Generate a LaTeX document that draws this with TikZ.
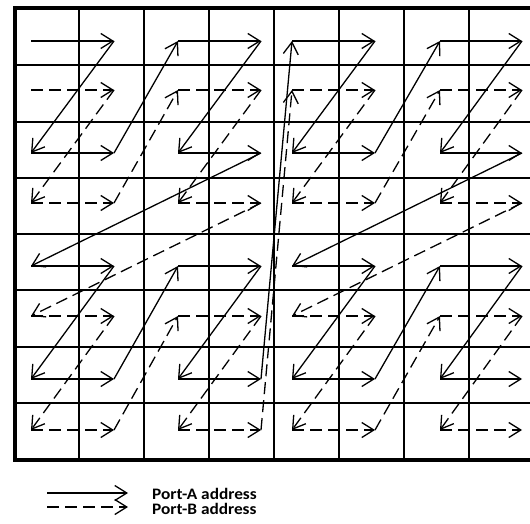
\documentclass[tikz,border=0pt]{standalone}
\usepackage{fontspec}
\newfontfamily\legfont[FakeStretch=1.08,UprightFont=* Bold,BoldFont=* Bold]{Carlito}
\usetikzlibrary{arrows.meta}
\tikzset{
  gridline/.style={line width=1.6pt},
  borderline/.style={line width=3.4pt},
  arr/.style={line width=1.3pt,-{Straight Barb[length=12pt,width=15pt,line width=1.3pt]}},
  arrb/.style={arr,dash pattern=on 12pt off 6pt},
  legtext/.style={anchor=west,inner sep=0pt,font=\legfont\fontsize{16}{17}\selectfont}
}
\begin{document}
\begin{tikzpicture}[x=1pt,y=-1pt]
\useasboundingbox (0,0) rectangle (530,524);
% grid
\foreach \gx in {79,144,209,274,339,404,469} {
  \draw[gridline] (\gx,8) -- (\gx,460);
}
\foreach \gy in {65,122,178,234,290,347,403} {
  \draw[gridline] (15,\gy) -- (530,\gy);
}
\draw[borderline] (530,8) -- (15,8) -- (15,460) -- (530,460);
% points
\foreach \i/\xx in {0/31,1/114,2/178,3/261,4/292,5/375,6/440,7/522} {
  \foreach \j/\ya/\yb in {0/41/90,1/153/203,2/266/316,3/379/430} {
    \coordinate (a\i\j) at (\xx,\ya);
    \coordinate (b\i\j) at (\xx,\yb);
  }
}
% sequences
\foreach \p/\q in {00/10,10/01,01/11,11/20,20/30,30/21,21/31,31/02,02/12,12/03,03/13,13/22,22/32,32/23,23/33,33/40,40/50,50/41,41/51,51/60,60/70,70/61,61/71,71/42,42/52,52/43,43/53,53/62,62/72,72/63,63/73} {
  \draw[arr] (a\p) -- (a\q);
  \draw[arrb] (b\p) -- (b\q);
}
% legend
\coordinate (la1) at (47,493);
\coordinate (la2) at (128,493);
\coordinate (lb1) at (47,507);
\coordinate (lb2) at (128,507);
\draw[arr] (la1) -- (la2);
\draw[arrb] (lb1) -- (lb2);
\node[legtext] (lta) at (152,494) {Port-A address};
\node[legtext] (ltb) at (152,509) {Port-B address};
\end{tikzpicture}
\end{document}
